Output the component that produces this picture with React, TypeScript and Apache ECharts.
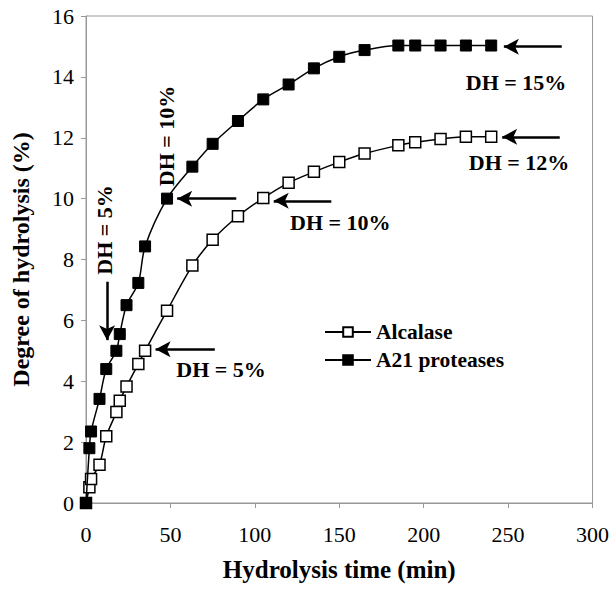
import React, { useEffect, useRef } from "react";
import * as echarts from "echarts";

const times = [0, 2, 3, 8, 12, 18, 20, 24, 31, 35, 48, 63, 75, 90, 105, 120, 135, 150, 165, 185, 195, 210, 225, 240];
const alcalase = [0, 0.52, 0.79, 1.26, 2.19, 2.99, 3.36, 3.83, 4.57, 5.0, 6.32, 7.8, 8.65, 9.42, 10.02, 10.52, 10.88, 11.2, 11.48, 11.75, 11.85, 11.96, 12.03, 12.03];
const a21 = [0, 1.8, 2.35, 3.42, 4.4, 5.0, 5.55, 6.5, 7.23, 8.43, 10.0, 11.05, 11.8, 12.55, 13.26, 13.75, 14.28, 14.66, 14.88, 15.03, 15.03, 15.03, 15.03, 15.03];

const seriesNames = ["Alcalase", "A21 proteases"];

// annotation texts: [label, x, y, rotate]
const noteLabels = ["DH = 10%", "DH = 5%", "DH = 5%", "DH = 10%", "DH = 15%", "DH = 12%"];
const noteX = [47.6, 11.2, 80, 150.6, 254.7, 256.5];
const noteY = [12.06, 8.97, 4.37, 9.23, 13.83, 11.2];
const noteRotate = [90, 90, 0, 0, 0, 0];

// arrows: from (x1,y1) to (x2,y2)
const arrowFrom: [number, number][] = [[89, 10], [12.5, 7.27], [76.3, 5.05], [145.3, 9.93], [281.8, 14.99], [280.6, 12.03]];
const arrowTo: [number, number][] = [[54, 10], [12.5, 5.35], [41.2, 5.05], [111.2, 9.93], [247.5, 14.99], [246.5, 12.03]];

const FONT = "'Liberation Serif', 'Times New Roman', serif";

export default function App() {
  const ref = useRef<HTMLDivElement>(null);
  useEffect(() => {
    document.body.style.margin = "0";
    const chart = echarts.init(ref.current!, null, { renderer: "svg" });
    const pair = (ys: number[]) => times.map((t, i) => [t, ys[i]]);
    chart.setOption({
      animation: false,
      backgroundColor: "#fff",
      textStyle: { fontFamily: FONT },
      grid: { left: 86, right: 16, top: 16, bottom: 88, show: true, borderColor: "#999", borderWidth: 1 },
      legend: {
        data: seriesNames,
        orient: "vertical",
        left: 324,
        top: 321,
        padding: 0,
        itemWidth: 46,
        itemHeight: 12,
        itemGap: 6,
        textStyle: { fontFamily: FONT, fontWeight: "bold", fontSize: 21.5, color: "#000" },
      },
      xAxis: {
        type: "value",
        min: 0,
        max: 300,
        interval: 50,
        name: "Hydrolysis time (min)",
        nameLocation: "middle",
        nameGap: 54,
        nameTextStyle: { fontFamily: FONT, fontWeight: "bold", fontSize: 25, color: "#000" },
        axisLine: { lineStyle: { color: "#999" } },
        axisTick: { show: true, inside: false, length: 5, lineStyle: { color: "#999" } },
        axisLabel: { fontFamily: FONT, fontSize: 22, color: "#000", margin: 20 },
        splitLine: { show: false },
      },
      yAxis: {
        type: "value",
        min: 0,
        max: 16,
        interval: 2,
        name: "Degree of hydrolysis (%)",
        nameLocation: "middle",
        nameGap: 53,
        nameTextStyle: { fontFamily: FONT, fontWeight: "bold", fontSize: 24, color: "#000" },
        axisLine: { show: true, lineStyle: { color: "#999" } },
        axisTick: { show: true, inside: false, length: 5, lineStyle: { color: "#999" } },
        axisLabel: { fontFamily: FONT, fontSize: 22, color: "#000", margin: 12 },
        splitLine: { show: false },
      },
      series: [
        {
          name: seriesNames[0],
          type: "line",
          data: pair(alcalase),
          smooth: 0.3,
          symbol: "rect",
          symbolSize: 11,
          showAllSymbol: true,
          lineStyle: { color: "#000", width: 1.5 },
          itemStyle: { color: "#fff", borderColor: "#000", borderWidth: 1.5 },
          z: 3,
        },
        {
          name: seriesNames[1],
          type: "line",
          data: pair(a21),
          smooth: 0.3,
          symbol: "rect",
          symbolSize: 11,
          showAllSymbol: true,
          lineStyle: { color: "#000", width: 1.5 },
          itemStyle: { color: "#000", borderColor: "#000", borderWidth: 1 },
          z: 4,
        },
        {
          name: "notes",
          type: "scatter",
          symbol: "circle",
          symbolSize: 1,
          silent: true,
          itemStyle: { color: "rgba(255,255,255,0)" },
          data: noteLabels.map((n, i) => ({
            name: n,
            value: [noteX[i], noteY[i]],
            label: { rotate: noteRotate[i] },
          })),
          label: {
            show: true,
            position: "inside",
            formatter: "{b}",
            fontFamily: FONT,
            fontWeight: "bold",
            fontSize: 22,
            color: "#000",
            opacity: 1,
            textBorderWidth: 0,
          },
          markLine: {
            silent: true,
            symbol: ["none", "arrow"],
            symbolSize: [12, 15],
            label: { show: false },
            lineStyle: { color: "#000", width: 2.5, type: "solid", opacity: 1 },
            data: arrowFrom.map((f, i) => [{ coord: f }, { coord: arrowTo[i] }]),
          },
          z: 5,
        },
      ],
    });
    return () => chart.dispose();
  }, []);
  return <div ref={ref} style={{ width: 612, height: 591 }} />;
}
